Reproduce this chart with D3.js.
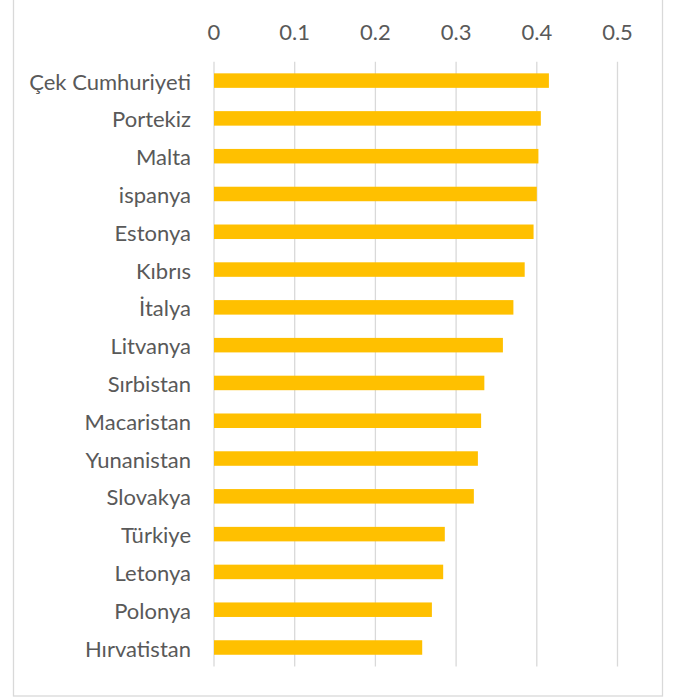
<!DOCTYPE html>
<html>
<head>
<meta charset="utf-8">
<script src="https://cdn.jsdelivr.net/npm/d3@7"></script>
<style>
  html, body { margin: 0; padding: 0; background: #fff; }
  svg { display: block; }
</style>
</head>
<body>
<svg id="chart" width="675" height="697"></svg>
<script>
// Countries, top to bottom
const countries = [
  "Çek Cumhuriyeti", "Portekiz", "Malta", "ispanya", "Estonya", "Kıbrıs",
  "İtalya", "Litvanya", "Sırbistan", "Macaristan", "Yunanistan", "Slovakya",
  "Türkiye", "Letonya", "Polonya", "Hırvatistan"
];
// Value for each country
const values = [
  0.415, 0.405, 0.402, 0.400, 0.396, 0.385,
  0.371, 0.358, 0.335, 0.331, 0.327, 0.322,
  0.286, 0.284, 0.270, 0.258
];
// Axis ticks
const ticks = [0, 0.1, 0.2, 0.3, 0.4, 0.5];

const svg = d3.select("#chart");
const font = "Lato, 'Open Sans', sans-serif";
const textColor = "#595959";
const gridColor = "#d9d9d9";

// outer frame
svg.append("rect")
  .attr("x", 13.5).attr("y", -5)
  .attr("width", 649).attr("height", 701)
  .attr("fill", "#fff")
  .attr("stroke", gridColor).attr("stroke-width", 1.3);

const x = d3.scaleLinear().domain([0, 0.5]).range([214, 617.5]);
const y = d3.scaleBand().domain(countries).range([61.7, 666.4])
  .paddingInner(0.616).paddingOuter(0.308);

// vertical gridlines
svg.append("g").selectAll("line").data(ticks).join("line")
  .attr("x1", d => x(d)).attr("x2", d => x(d))
  .attr("y1", 61.7).attr("y2", 666.4)
  .attr("stroke", gridColor).attr("stroke-width", 1.3);

// top axis labels
svg.append("g").selectAll("text").data(ticks).join("text")
  .attr("x", d => x(d)).attr("y", 31)
  .attr("text-anchor", "middle").attr("dominant-baseline", "central")
  .attr("font-family", font).attr("font-size", 22)
  .attr("fill", textColor)
  .text(d => d3.format("")(d));

// bars
svg.append("g").selectAll("rect").data(countries).join("rect")
  .attr("x", x(0)).attr("y", d => y(d))
  .attr("width", (d, i) => x(values[i]) - x(0))
  .attr("height", y.bandwidth())
  .attr("fill", "#ffc000");

// category labels
svg.append("g").selectAll("text").data(countries).join("text")
  .attr("x", 191).attr("y", d => y(d) + y.bandwidth() / 2 + 0.5)
  .attr("text-anchor", "end").attr("dominant-baseline", "central")
  .attr("font-family", font).attr("font-size", 22)
  .attr("fill", textColor)
  .text(d => d);
</script>
</body>
</html>
